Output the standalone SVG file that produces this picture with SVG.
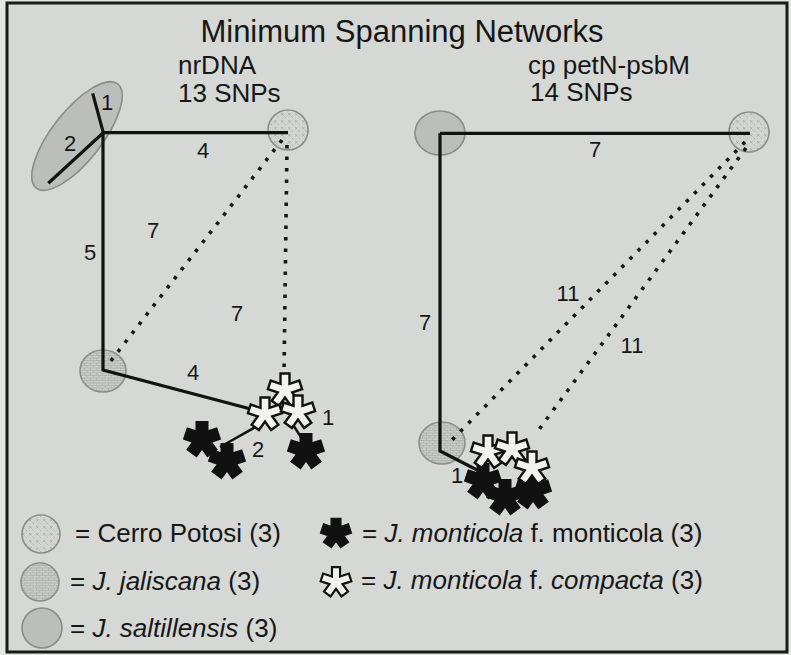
<svg xmlns="http://www.w3.org/2000/svg" width="791" height="655" viewBox="0 0 791 655">
<style>
text{font-family:"Liberation Sans",Arial,sans-serif;fill:#161616}
.t{font-size:31px}
.h{font-size:26px}
.n{font-size:22px;text-anchor:middle}
.lg{font-size:26px}
.solid{stroke:#121212;stroke-width:3.2;fill:none}
.thin{stroke:#121212;stroke-width:2.4;fill:none}
.dot{stroke:#161616;stroke-width:3.6;fill:none;stroke-dasharray:3.5 8}
.cp{fill:url(#pCP);stroke:#8c8e8b;stroke-width:1.6}
.jj{fill:url(#pJJ);stroke:#8c8e8b;stroke-width:1.6}
.sa{fill:#bcbebb;stroke:#8a8c89;stroke-width:1.6}
.bs{fill:#111}
.ws{fill:#f2f3f1;stroke:#111;stroke-width:2.4;stroke-linejoin:miter}
</style>
<defs>
<pattern id="pCP" width="7" height="7" patternUnits="userSpaceOnUse"><rect width="7" height="7" fill="#d2d4d1"/><path d="M1 1l2.5 2.5M3.5 1L1 3.5M4.5 4.5l1.5 1.5" stroke="#9c9e9b" stroke-width="0.6"/></pattern>
<pattern id="pJJ" width="6" height="5" patternUnits="userSpaceOnUse"><rect width="6" height="5" fill="#cacdc9"/><path d="M0 0.5h6M3 0.5v2M0 3h6M0.5 3v2" stroke="#a3a5a2" stroke-width="0.6"/></pattern>
<polygon id="blk" points="-6.5,-18 6.5,-18 6.5,-8.94 15.11,-11.74 19.13,0.62 10.51,3.42 15.84,10.74 5.32,18.38 0,11.05 -5.32,18.38 -15.84,10.74 -10.51,3.42 -19.13,0.62 -15.11,-11.74 -6.5,-8.94"/>
<polygon id="wht" points="-4.5,-16.5 4.5,-16.5 4.5,-6.19 14.3,-9.38 17.08,-0.82 7.28,2.37 13.34,10.7 6.06,16 0,7.66 -6.06,16 -13.34,10.7 -7.28,2.37 -17.08,-0.82 -14.3,-9.38 -4.5,-6.19"/>
</defs>
<rect width="791" height="655" fill="#e4e6e3"/>
<rect x="7" y="3" width="780" height="649" fill="#d5d8d4" stroke="#1a1a1a" stroke-width="3"/>
<g id="titles">
<text class="t" x="402" y="42" text-anchor="middle">Minimum Spanning Networks</text>
<text class="h" x="178" y="74">nrDNA</text>
<text class="h" x="178" y="102">13 SNPs</text>
<text class="h" x="528" y="74">cp petN-psbM</text>
<text class="h" x="530" y="101">14 SNPs</text>
</g>
<g id="nodes-back">
<g id="L-saltillensis"><ellipse class="sa" cx="0" cy="0" rx="25" ry="66" transform="translate(77 136) rotate(38)"/></g>
<g id="L-cerro"><circle class="cp" cx="288" cy="130" r="20"/></g>
<g id="L-jaliscana"><ellipse class="jj" cx="103" cy="371" rx="23" ry="21"/></g>
<g id="R-saltillensis"><ellipse class="sa" cx="440" cy="133" rx="25" ry="22"/></g>
<g id="R-cerro"><circle class="cp" cx="749" cy="132" r="20"/></g>
<g id="R-jaliscana"><ellipse class="jj" cx="442" cy="443" rx="23" ry="21"/></g>
</g>
<g id="connectors">
<path class="solid" d="M92.7 93.3L103.3 132.7L48.3 183.3"/>
<path class="solid" d="M103.3 132.7H288"/>
<path class="solid" d="M103 132.7V370L262 412"/>
<path class="thin" d="M268 420L220 447"/>
<path class="thin" d="M290 420L304 442"/>
<path class="dot" d="M282 140L110 362"/>
<path class="dot" d="M287 145L284 372"/>
<path class="solid" d="M440 133.3H750"/>
<path class="solid" d="M440 133.3V451L481 472"/>
<path class="dot" d="M745 142L450 442"/>
<path class="dot" d="M746 148L535 435"/>
</g>
<g id="labels">
<text class="n" x="107" y="110">1</text>
<text class="n" x="70" y="151">2</text>
<text class="n" x="203" y="158">4</text>
<text class="n" x="90" y="260">5</text>
<text class="n" x="153" y="238">7</text>
<text class="n" x="237" y="321">7</text>
<text class="n" x="193" y="380">4</text>
<text class="n" x="258" y="457">2</text>
<text class="n" x="328" y="425">1</text>
<text class="n" x="595" y="157">7</text>
<text class="n" x="425" y="330">7</text>
<text class="n" x="568" y="301">11</text>
<text class="n" x="632" y="353">11</text>
<text class="n" x="457" y="483">1</text>
</g>
<g id="L-monticola">
<use href="#blk" class="bs" x="202" y="439"/>
<use href="#blk" class="bs" x="227" y="461"/>
<use href="#blk" class="bs" x="306" y="451"/>
</g>
<g id="L-compacta">
<use href="#wht" class="ws" x="285" y="390"/>
<use href="#wht" class="ws" x="265" y="414"/>
<use href="#wht" class="ws" x="298" y="412"/>
</g>
<g id="R-monticola">
<use href="#blk" class="bs" x="483" y="481"/>
<use href="#blk" class="bs" x="505" y="497"/>
<use href="#blk" class="bs" x="533" y="491"/>
</g>
<g id="R-compacta">
<use href="#wht" class="ws" x="488" y="452"/>
<use href="#wht" class="ws" x="512" y="449"/>
<use href="#wht" class="ws" x="532" y="468"/>
</g>
<g id="legend">
<circle class="cp" cx="41" cy="534" r="19"/>
<text class="lg" x="75" y="542">= Cerro Potosi (3)</text>
<circle class="jj" cx="40" cy="582" r="19"/>
<text class="lg" x="70" y="590">= <tspan font-style="italic">J. jaliscana</tspan> (3)</text>
<circle class="sa" cx="42" cy="628" r="20"/>
<text class="lg" x="70" y="637">= <tspan font-style="italic">J. saltillensis</tspan> (3)</text>
<use href="#blk" class="bs" transform="translate(336 533) scale(0.85)"/>
<text class="lg" x="362" y="542">= <tspan font-style="italic">J. monticola</tspan> f. monticola (3)</text>
<use href="#wht" class="ws" transform="translate(336 582) scale(0.9)"/>
<text class="lg" x="361" y="589">= <tspan font-style="italic">J. monticola</tspan> f. <tspan font-style="italic">compacta</tspan> (3)</text>
</g>
</svg>
